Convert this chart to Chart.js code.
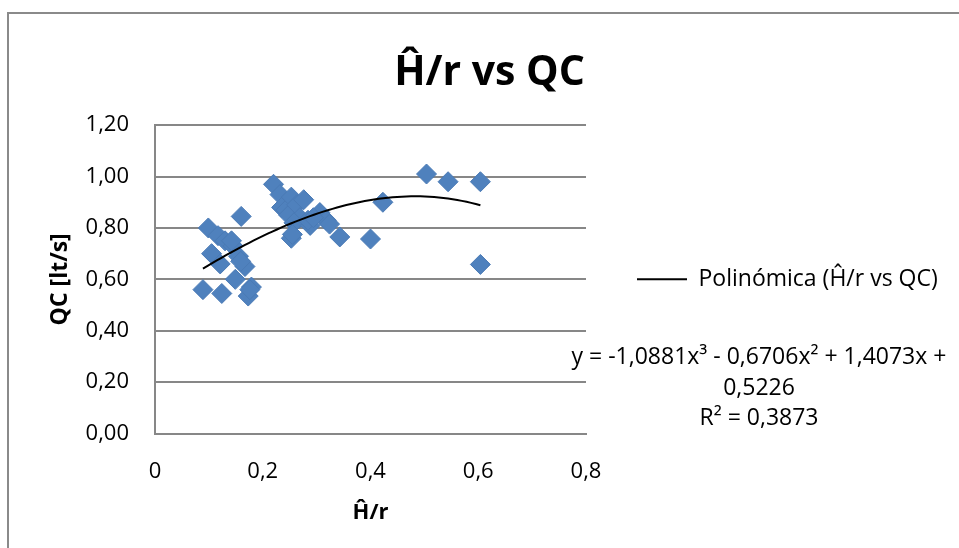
<!DOCTYPE html>
<html>
<head>
<meta charset="utf-8">
<script src="https://cdn.jsdelivr.net/npm/chart.js@4/dist/chart.umd.min.js"></script>
<style>
  html, body { margin: 0; padding: 0; background: #fff; overflow: hidden; }
  #frame {
    position: absolute; left: 7px; top: 12px; width: 1000px; height: 600px;
    border: 2px solid #8a8a8a;
  }
  #wrap { position: absolute; left: 0; top: 0; width: 959px; height: 548px; }
</style>
</head>
<body>
<div id="frame"></div>
<div id="wrap"><canvas id="chart" width="959" height="548"></canvas></div>
<script>
// Ĥ/r values
const hrValues = [
  0.089, 0.099, 0.105, 0.117, 0.124, 0.121, 0.130, 0.145, 0.142, 0.155,
  0.149, 0.160, 0.167, 0.159, 0.173, 0.179, 0.176,
  0.220, 0.232, 0.235, 0.243, 0.253, 0.248, 0.263, 0.276, 0.269,
  0.258, 0.288, 0.306, 0.318, 0.324, 0.253, 0.255, 0.343, 0.400,
  0.423, 0.504, 0.544, 0.604, 0.604, 0.284, 0.294
];
// QC [lt/s] values, same order
const qcValues = [
  0.56, 0.80, 0.70, 0.77, 0.545, 0.66, 0.75, 0.73, 0.75, 0.69,
  0.60, 0.845, 0.65, 0.67, 0.535, 0.57, 0.56,
  0.97, 0.93, 0.88, 0.87, 0.92, 0.85, 0.89, 0.91, 0.84,
  0.82, 0.81, 0.86, 0.83, 0.815, 0.76, 0.775, 0.765, 0.757,
  0.90, 1.01, 0.98, 0.98, 0.658, 0.83, 0.84
];
// polynomial trendline coefficients shown on the chart (x^3, x^2, x, 1)
const trendCoefs = [-1.0881, -0.6706, 1.4073, 0.5226];
const trendLabel = "Polinómica (Ĥ/r vs QC)";
const equationLines = ["y = -1,0881x³ - 0,6706x² + 1,4073x +", "0,5226", "R² = 0,3873"];
const xTicks = [0, 0.2, 0.4, 0.6, 0.8];
const yTicks = [0, 0.2, 0.4, 0.6, 0.8, 1.0, 1.2];

const FONT = "'Open Sans', 'DejaVu Sans', sans-serif";
Chart.defaults.font.family = FONT;
Chart.defaults.color = "#000";

const points = hrValues.map((x, i) => ({ x: x, y: qcValues[i] }));

// evaluate the trendline over the data range
function trendAt(x) {
  return trendCoefs[0] * x * x * x + trendCoefs[1] * x * x + trendCoefs[2] * x + trendCoefs[3];
}
const xMin = Math.min(...hrValues);
const xMax = Math.max(...hrValues);
const trendPoints = [];
for (let i = 0; i <= 60; i++) {
  const x = xMin + (xMax - xMin) * i / 60;
  trendPoints.push({ x: x, y: trendAt(x) });
}

const comma = (v, d) => v.toFixed(d).replace(".", ",");

// keep the legend column wide so the plot ends where it does in the original
const legendWidthPlugin = {
  id: "legendWidth",
  beforeUpdate(chart) {
    const lg = chart.legend;
    if (lg && !lg._wide) {
      const fit = lg.fit;
      lg.fit = function () {
        fit.call(this);
        this.width = 373;
      };
      lg._wide = true;
    }
  }
};

// trendline equation text below the legend
const equationPlugin = {
  id: "equation",
  afterDraw(chart) {
    const ctx = chart.ctx;
    ctx.save();
    ctx.font = "23px " + FONT;
    ctx.fillStyle = "#000";
    ctx.textAlign = "center";
    ctx.textBaseline = "middle";
    const ys = [357, 388, 418];
    equationLines.forEach((t, i) => ctx.fillText(t, 759, ys[i]));
    ctx.restore();
  }
};

new Chart(document.getElementById("chart"), {
  type: "scatter",
  data: {
    datasets: [
      {
        type: "line",
        label: trendLabel,
        data: trendPoints,
        borderColor: "#000",
        backgroundColor: "#000",
        borderWidth: 2,
        pointRadius: 0,
        tension: 0,
        fill: false,
      },
      {
        label: "Ĥ/r vs QC",
        data: points,
        pointStyle: "rectRot",
        pointRadius: 10,
        pointHoverRadius: 10,
        backgroundColor: "#4F81BD",
        borderColor: "#4A7AB5",
        borderWidth: 1,
      },
    ],
  },
  options: {
    responsive: false,
    animation: false,
    layout: { padding: { left: 20, right: 0, top: 0, bottom: 22 } },
    scales: {
      x: {
        type: "linear",
        min: 0,
        max: 0.8,
        afterBuildTicks: (s) => { s.ticks = xTicks.map(v => ({ value: v })); },
        afterFit: (s) => { s.height = 92.5; },
        ticks: {
          padding: 25,
          font: { size: 22 },
          callback: (v) => (v === 0 ? "0" : comma(v, 1)),
        },
        grid: { display: false, drawTicks: false },
        border: { display: true, color: "#878787", width: 2 },
        title: { display: true, text: "Ĥ/r", font: { size: 22, weight: "bold" }, padding: 0 },
      },
      y: {
        min: 0,
        max: 1.2,
        afterBuildTicks: (s) => { s.ticks = yTicks.map(v => ({ value: v })); },
        afterFit: (s) => { s.width = 135; },
        ticks: {
          padding: 26,
          font: { size: 22 },
          callback: (v) => comma(v, 2),
        },
        grid: { color: "#878787", lineWidth: 2, drawTicks: false },
        border: { display: true, color: "#878787", width: 2 },
        title: {
          display: true,
          text: "QC [lt/s]",
          font: { size: 23, weight: "bold" },
          padding: { top: 27, bottom: 0 },
        },
      },
    },
    plugins: {
      title: {
        display: true,
        text: "Ĥ/r vs QC",
        font: { size: 41, weight: "bold" },
        padding: { top: 49, bottom: 27 },
        color: "#000",
      },
      legend: {
        position: "right",
        fullSize: false,
        labels: {
          usePointStyle: true,
          pointStyle: "line",
          pointStyleWidth: 50,
          padding: 51,
          font: { size: 23 },
          color: "#000",
          filter: (item) => item.datasetIndex === 0,
        },
      },
      tooltip: { enabled: false },
    },
  },
  plugins: [legendWidthPlugin, equationPlugin],
});
</script>
</body>
</html>
